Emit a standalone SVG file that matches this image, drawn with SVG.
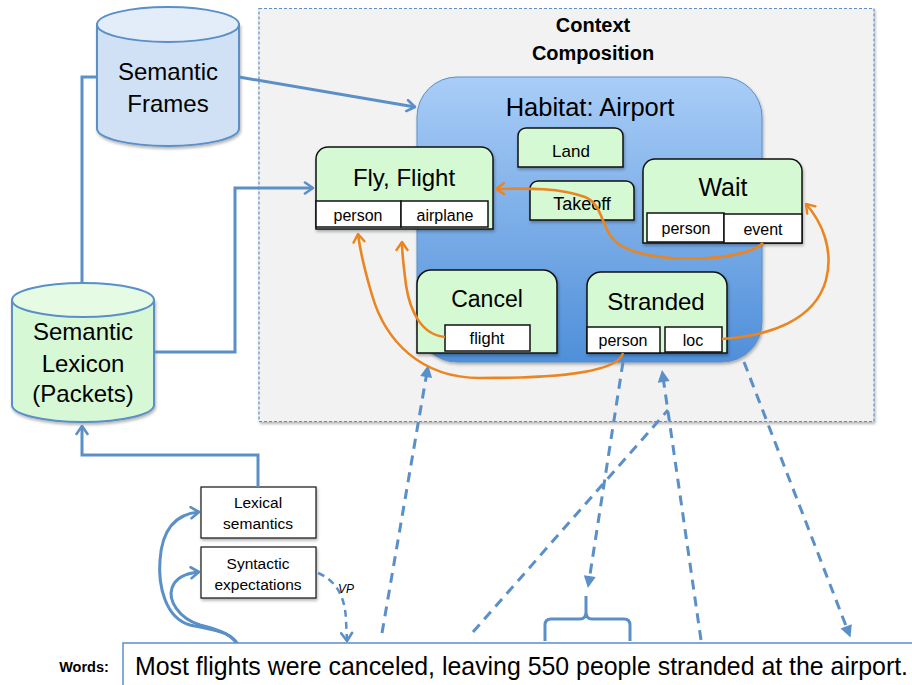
<svg xmlns="http://www.w3.org/2000/svg" width="912" height="685" viewBox="0 0 912 685">
<defs>
<style>
text{font-family:"Liberation Sans",Arial,sans-serif;fill:#000;text-anchor:middle}
text.start{text-anchor:start}
.bl{fill:none;stroke:#5b8fc7;stroke-width:3}
.dash{fill:none;stroke:#5b8fc7;stroke-width:3;stroke-dasharray:10,7}
.or{fill:none;stroke:#ea8520;stroke-width:2.6}
.frame{fill:#d5f9d3;stroke:#111;stroke-width:1.5}
.slot{fill:#fff;stroke:#111;stroke-width:1.5}
.box{fill:#fff;stroke:#111;stroke-width:1.2}
.cylb{stroke:#5b8fc7;stroke-width:2}
</style>
<linearGradient id="hab" x1="0" y1="0" x2="0" y2="1">
<stop offset="0" stop-color="#a9cdf7"/>
<stop offset="1" stop-color="#4f8fd9"/>
</linearGradient>
<filter id="sh" x="-10%" y="-10%" width="130%" height="130%">
<feDropShadow dx="1" dy="2" stdDeviation="1.5" flood-color="#000" flood-opacity="0.3"/>
</filter>
<marker id="openB" viewBox="-10 -7 12 14" refX="0" refY="0" markerWidth="12" markerHeight="14" markerUnits="userSpaceOnUse" orient="auto">
<path d="M-8,-5.5 L0,0 L-8,5.5" fill="none" stroke="#5b8fc7" stroke-width="2.6" stroke-linecap="round" stroke-linejoin="round"/>
</marker>
<marker id="openO" viewBox="-10 -7 12 14" refX="0" refY="0" markerWidth="12" markerHeight="14" markerUnits="userSpaceOnUse" orient="auto">
<path d="M-8,-5.5 L0,0 L-8,5.5" fill="none" stroke="#ea8520" stroke-width="2.4" stroke-linecap="round" stroke-linejoin="round"/>
</marker>
<marker id="triB" viewBox="-6 -7 14 14" refX="0" refY="0" markerWidth="14" markerHeight="14" markerUnits="userSpaceOnUse" orient="auto">
<path d="M-5,-6 L7,0 L-5,6 Z" fill="#5b8fc7"/>
</marker>
</defs>

<rect width="912" height="685" fill="#fff"/>

<g id="context">
<rect x="259" y="8.5" width="615" height="413" fill="#f2f2f2" stroke="#5b8fc7" stroke-width="1.2" stroke-dasharray="3,2" filter="url(#sh)"/>
<text x="593" y="32" font-size="20" font-weight="bold">Context</text>
<text x="593" y="60" font-size="20" font-weight="bold">Composition</text>
</g>

<g id="habitat">
<rect x="417" y="77" width="345" height="285" rx="40" ry="40" fill="url(#hab)" stroke="#5b8fc7" stroke-width="1" filter="url(#sh)"/>
<text x="590" y="116" font-size="25.5">Habitat: Airport</text>
</g>

<g id="frames">
<path class="cylb" d="M97,24.5 L97,128.5 A71,17.5 0 0 0 239,128.5 L239,24.5 Z" fill="#d0e1f5" filter="url(#sh)"/>
<ellipse class="cylb" cx="168" cy="24.5" rx="71" ry="17.5" fill="#e3edf9"/>
<text x="168" y="80" font-size="24">Semantic</text>
<text x="168" y="112" font-size="24">Frames</text>
</g>

<g id="lexicon">
<path class="cylb" d="M12,300 L12,405 A71,17 0 0 0 154,405 L154,300 Z" fill="#d6f8d4" filter="url(#sh)"/>
<ellipse class="cylb" cx="83" cy="300" rx="71" ry="17" fill="#e6fbe4"/>
<text x="83" y="340" font-size="24">Semantic</text>
<text x="83" y="372" font-size="24">Lexicon</text>
<text x="83" y="402" font-size="24">(Packets)</text>
</g>

<g id="land">
<path class="frame" d="M518,167 L518,136 A8,8 0 0 1 526,128 L615,128 A8,8 0 0 1 623,136 L623,167 Z" filter="url(#sh)"/>
<text x="571" y="157" font-size="17">Land</text>
</g>

<g id="takeoff">
<path class="frame" d="M530,220 L530,189 A8,8 0 0 1 538,181 L626,181 A8,8 0 0 1 634,189 L634,220 Z" filter="url(#sh)"/>
<text x="582" y="210" font-size="18">Takeoff</text>
</g>

<g id="fly">
<path class="frame" d="M316,229 L316,159 A12,12 0 0 1 328,147 L481,147 A12,12 0 0 1 493,159 L493,229 Z" filter="url(#sh)"/>
<text x="404" y="186" font-size="24">Fly, Flight</text>
<rect class="slot" x="316" y="201" width="85" height="26"/>
<rect class="slot" x="401" y="201" width="87" height="26"/>
<text x="358" y="221" font-size="16">person</text>
<text x="445" y="221" font-size="16">airplane</text>
</g>

<g id="wait">
<path class="frame" d="M643,243 L643,171 A12,12 0 0 1 655,159 L790,159 A12,12 0 0 1 802,171 L802,243 Z" filter="url(#sh)"/>
<text x="723" y="196" font-size="25">Wait</text>
<rect class="slot" x="647" y="213" width="77" height="29"/>
<rect class="slot" x="724" y="214" width="78" height="29"/>
<text x="686" y="234" font-size="16">person</text>
<text x="763" y="235" font-size="16">event</text>
</g>

<g id="cancel">
<path class="frame" d="M417,353 L417,284 A14,14 0 0 1 431,270 L543,270 A14,14 0 0 1 557,284 L557,353 Z" filter="url(#sh)"/>
<text x="487" y="307" font-size="23">Cancel</text>
<rect class="slot" x="445" y="325" width="85" height="26"/>
<text x="487" y="344" font-size="16.5">flight</text>
</g>

<g id="stranded">
<path class="frame" d="M587,353 L587,286 A14,14 0 0 1 601,272 L713,272 A14,14 0 0 1 727,286 L727,353 Z" filter="url(#sh)"/>
<text x="656" y="310" font-size="24">Stranded</text>
<rect class="slot" x="587" y="327" width="73" height="26"/>
<rect class="slot" x="665" y="327" width="57" height="25"/>
<text x="623" y="346" font-size="16">person</text>
<text x="693" y="346" font-size="16">loc</text>
</g>

<g id="lexsem">
<rect class="box" x="201" y="487" width="115" height="51" filter="url(#sh)"/>
<text x="258" y="508" font-size="15.5">Lexical</text>
<text x="258" y="529" font-size="15.5">semantics</text>
</g>

<g id="synexp">
<rect class="box" x="201" y="547" width="115" height="51" filter="url(#sh)"/>
<text x="258" y="569" font-size="15.5">Syntactic</text>
<text x="258" y="590" font-size="15.5">expectations</text>
</g>

<g id="connectors">
<path class="bl" d="M97,77 L82,77 L82,283"/>
<path class="bl" d="M239,77 L415,107" marker-end="url(#openB)"/>
<path class="bl" d="M154,352 L235,352 L235,188 L313,188" marker-end="url(#openB)"/>
<path class="bl" d="M258,487 L258,455 L82,455 L82,426" marker-end="url(#openB)"/>
<path class="bl" d="M240,650 C236,632 215,630 190,625 C165,618 158,585 160,560 C162,530 175,514 199,512" marker-end="url(#openB)"/>
<path class="bl" d="M240,650 C235,635 220,630 200,625 C178,618 168,600 172,588 C176,576 188,573 199,572" marker-end="url(#openB)"/>
<path fill="none" stroke="#5b8fc7" stroke-width="2.5" stroke-dasharray="7,5" d="M318,573 C335,580 345,595 346,620 L347,641" marker-end="url(#openB)"/>
<text x="346" y="593" font-size="12" font-style="italic">VP</text>

<path class="dash" d="M382,633 L427,372" marker-end="url(#triB)"/>
<path class="dash" d="M623,362 L589,581" marker-end="url(#triB)"/>
<path class="dash" d="M473,632 L668,410"/>
<path class="dash" d="M701,640 L663,377" marker-end="url(#triB)"/>
<path class="dash" d="M744,362 L848,631" marker-end="url(#triB)"/>
<path class="bl" d="M545,641 L545,625 Q545,619 551,619 L580,619 Q586,619 586,612 L586,596 M586,612 Q586,619 592,619 L624,619 Q630,619 630,625 L630,641"/>

<path class="or" d="M763,243 C745,262 650,265 620,245 C600,232 605,205 585,197 C560,188 530,188 496,189" marker-end="url(#openO)"/>
<path class="or" d="M722,339 C770,336 815,320 826,280 C834,250 822,222 806,204" marker-end="url(#openO)"/>
<path class="or" d="M445,337 C422,335 410,312 406,285 C404,268 402,256 402,242" marker-end="url(#openO)"/>
<path class="or" d="M623,353 C618,372 560,378 480,378 C420,378 385,340 372,295 C364,268 360,250 358,234" marker-end="url(#openO)"/>
</g>

<g id="sentence">
<rect x="123" y="643" width="800" height="50" fill="#fff" stroke="#5b8fc7" stroke-width="1.5"/>
<text class="start" x="135" y="675" font-size="25" textLength="773" lengthAdjust="spacingAndGlyphs">Most flights were canceled, leaving 550 people stranded at the airport.</text>
</g>
<g id="words">
<text x="84" y="672" font-size="14.5" font-weight="bold">Words:</text>
</g>
</svg>
